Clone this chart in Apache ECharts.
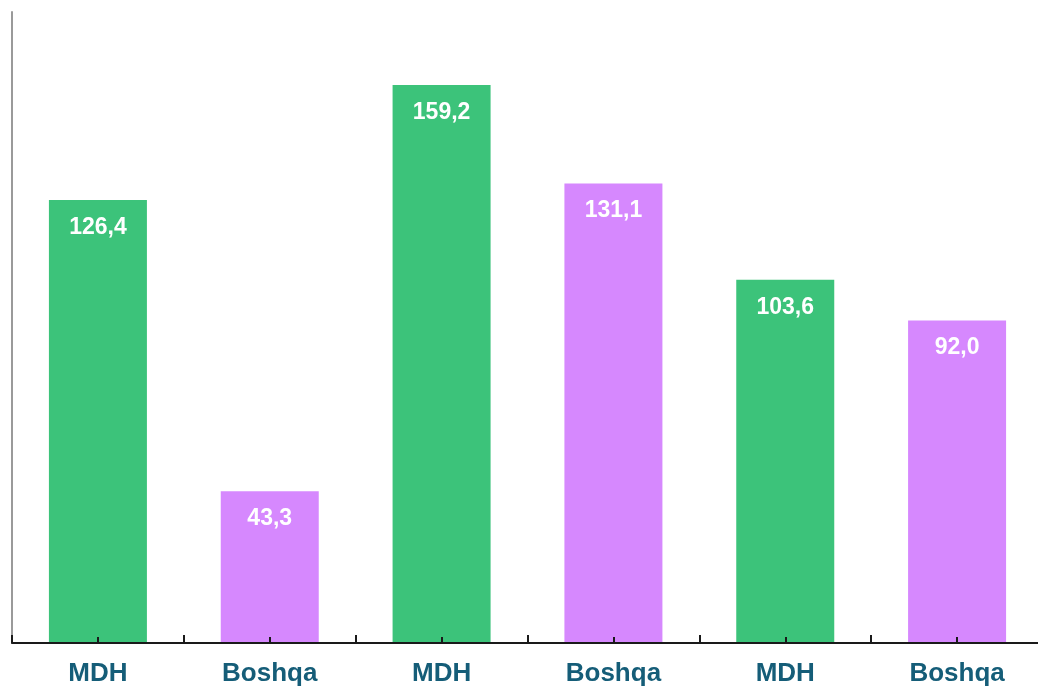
<!DOCTYPE html>
<html>
<head>
<meta charset="utf-8">
<script src="https://cdn.jsdelivr.net/npm/echarts@6/dist/echarts.min.js"></script>
<style>
  html, body { margin: 0; padding: 0; background: #fff; }
  #chart { width: 1038px; height: 689px; }
</style>
</head>
<body>
<div id="chart"></div>
<script>
const categories = ['MDH', 'Boshqa', 'MDH', 'Boshqa', 'MDH', 'Boshqa']
const values = [126.4, 43.3, 159.2, 131.1, 103.6, 92.0]
const barColors = ['#3cc37a', '#d688fe', '#3cc37a', '#d688fe', '#3cc37a', '#d688fe']
// half-category ticks (two per category)
const halfTicks = ['', '', '', '', '', '', '', '', '', '', '', '']

const chart = echarts.init(document.getElementById('chart'))

chart.setOption({
  animation: false,
  grid: { left: 12, width: 1031, top: 12, bottom: 46, outerBoundsMode: 'none' },
  xAxis: [
    {
      type: 'category',
      data: categories,
      z: 5,
      axisLine: { show: true, lineStyle: { color: '#1a1a1a', width: 2 } },
      axisTick: { show: true, inside: true, length: 8, lineStyle: { color: '#1a1a1a', width: 2 } },
      axisLabel: {
        margin: 18,
        color: '#155d78',
        fontSize: 26,
        fontWeight: 'bold',
        fontFamily: 'Liberation Sans, Arial, sans-serif'
      }
    },
    {
      type: 'category',
      data: halfTicks,
      position: 'bottom',
      z: 5,
      axisLine: { show: false },
      axisTick: { show: true, inside: true, length: 6, lineStyle: { color: '#1a1a1a', width: 2 } },
      axisLabel: { show: false }
    }
  ],
  yAxis: {
    type: 'value',
    min: 0,
    max: 180,
    axisLine: { show: true, lineStyle: { color: '#9a9a9a', width: 2 } },
    axisTick: { show: false },
    axisLabel: { show: false },
    splitLine: { show: false }
  },
  series: [
    {
      type: 'bar',
      barWidth: 98,
      data: values.map((v, i) => ({ value: v, itemStyle: { color: barColors[i] } })),
      label: {
        show: true,
        position: 'insideTop',
        distance: 16,
        color: '#fff',
        fontSize: 23,
        fontWeight: 'bold',
        fontFamily: 'Liberation Sans, Arial, sans-serif',
        formatter: p => p.value.toFixed(1).replace('.', ',')
      }
    }
  ]
})
</script>
</body>
</html>
